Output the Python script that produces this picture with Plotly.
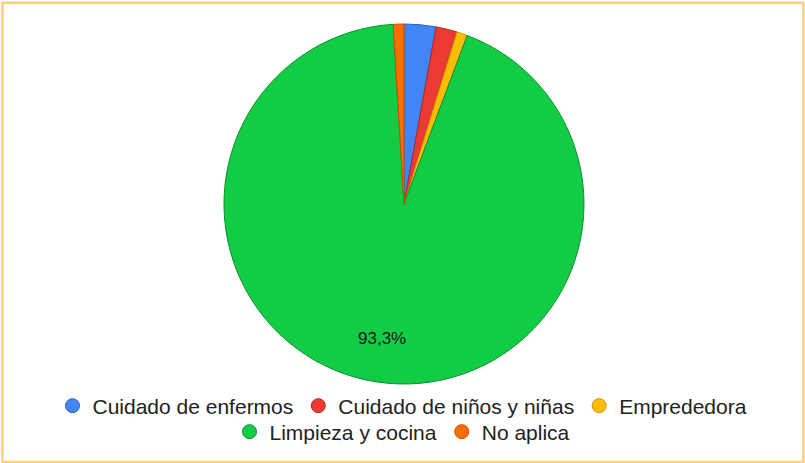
import math
import plotly.graph_objects as go

categories = ["Cuidado de enfermos", "Cuidado de niños y niñas", "Emprededora",
              "Limpieza y cocina", "No aplica"]
values = [3, 2, 1, 98, 1]

colors = ["#4285F4", "#EA3A33", "#FBBC04", "#12CC45", "#FF6D01"]
edge_colors = ["#2a5fc0", "#b02822", "#c89400", "#0a8f2c", "#c85000"]
legend_rows = ["legend", "legend", "legend", "legend2", "legend2"]

W, H = 805, 463
total = sum(values)

# pie geometry (paper fractions)
dom_x = [0.2658, 0.7379]
dom_y = [1 - 384 / H, 1 - 24 / H]
cx = (dom_x[0] + dom_x[1]) / 2
cy = (dom_y[0] + dom_y[1]) / 2
R = min((dom_x[1] - dom_x[0]) * W, (dom_y[1] - dom_y[0]) * H) / 2

fig = go.Figure()
fig.add_trace(go.Pie(
    labels=categories, values=values, sort=False, direction="clockwise",
    rotation=0,
    marker=dict(colors=colors, line=dict(color=edge_colors, width=1)),
    textinfo="none",
    showlegend=False, hoverinfo="label+percent",
    domain=dict(x=dom_x, y=dom_y),
))

# percentage label for the dominant slice, placed along its bisector
annotations = []
cum = 0
for v in values:
    frac = v / total
    if frac > 0.5:
        mid = 2 * math.pi * (cum + frac / 2)
        r = 0.82 * R
        ax = cx + r * math.sin(mid) / W
        ay = cy + r * math.cos(mid) / H
        annotations.append(dict(
            x=ax, y=ay, xref="paper", yref="paper", showarrow=False,
            text=f"{frac * 100:.1f}".replace(".", ",") + "%",
            font=dict(family="Liberation Sans, Arial, sans-serif", size=17, color="#1a1a1a"),
        ))
    cum += frac

for name, col, ec, lg in zip(categories, colors, edge_colors, legend_rows):
    fig.add_trace(go.Scatter(
        x=[None], y=[None], mode="markers", name=name, legend=lg,
        marker=dict(symbol="circle", size=14, color=col, line=dict(color=ec, width=1)),
        showlegend=True,
    ))

legend_font = dict(family="Liberation Sans, Arial, sans-serif", size=21, color="#222222")
fig.update_layout(
    width=W, height=H,
    margin=dict(l=0, r=0, t=0, b=0),
    paper_bgcolor="white", plot_bgcolor="white",
    separators=",.",
    xaxis=dict(visible=False), yaxis=dict(visible=False),
    annotations=annotations,
    legend=dict(orientation="h", x=0.5, xanchor="center", y=1 - 406 / H, yanchor="middle",
                font=legend_font, traceorder="normal", bgcolor="rgba(0,0,0,0)"),
    legend2=dict(orientation="h", x=0.5, xanchor="center", y=1 - 432 / H, yanchor="middle",
                 font=legend_font, traceorder="normal", bgcolor="rgba(0,0,0,0)"),
    shapes=[dict(type="rect", xref="paper", yref="paper", x0=0.003, x1=0.998, y0=0.002, y1=0.994,
                 line=dict(color="#F9D27F", width=2.5), fillcolor="rgba(0,0,0,0)")],
)

fig.write_html("out.html", config={"displayModeBar": False},
               post_script="document.body.style.margin='0';")
